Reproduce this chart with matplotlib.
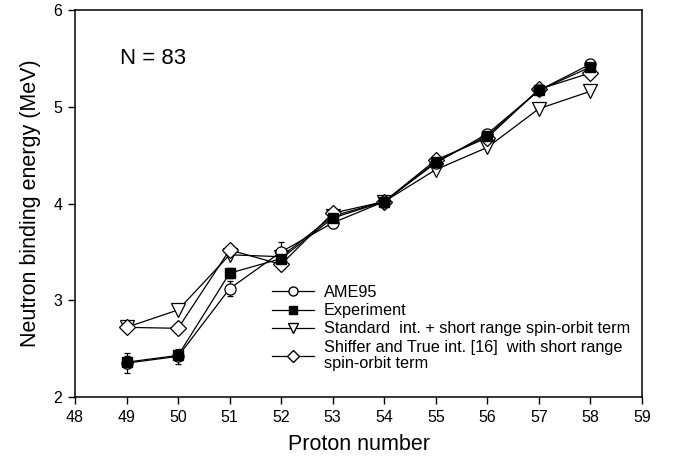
import matplotlib
matplotlib.use("Agg")
import matplotlib.pyplot as plt
from matplotlib.lines import Line2D

plt.rcParams['font.family'] = ['Liberation Sans', 'DejaVu Sans']

proton = [49, 50, 51, 52, 53, 54, 55, 56, 57, 58]
ame95 = [2.35, 2.42, 3.12, 3.50, 3.80, 4.02, 4.42, 4.72, 5.17, 5.44]
ame95_err = [0.10, 0.08, 0.08, 0.10, 0.05, 0.02, 0.03, 0.03, 0.02, 0.02]
experiment = [2.36, 2.43, 3.28, 3.43, 3.85, 4.02, 4.43, 4.70, 5.17, 5.41]
experiment_err = [0.06, 0.05, 0.05, 0.05, 0.04, 0.02, 0.03, 0.03, 0.02, 0.02]
standard = [2.72, 2.90, 3.47, 3.45, 3.87, 4.02, 4.35, 4.58, 4.98, 5.16]
shiffer = [2.72, 2.71, 3.52, 3.37, 3.90, 4.02, 4.45, 4.68, 5.18, 5.35]

labels = ["AME95", "Experiment", "Standard  int. + short range spin-orbit term",
          "Shiffer and True int. [16]  with short range\nspin-orbit term"]

fig = plt.figure(figsize=(6.78, 4.66), dpi=100)
ax = fig.add_axes([75/678, 1 - 397/466, (642-75)/678, (397-10)/466])

lw = 0.9
ax.errorbar(proton, ame95, yerr=ame95_err, color='black', lw=lw, marker='o', ms=8,
            mfc='white', mec='black', mew=0.9, capsize=2.5, elinewidth=0.9, zorder=3)
ax.errorbar(proton, experiment, yerr=experiment_err, color='black', lw=lw, marker='s', ms=7,
            mfc='black', mec='black', capsize=2.5, elinewidth=0.9, zorder=3)
ax.plot(proton, standard, color='black', lw=lw, marker='v', ms=10,
        mfc='white', mec='black', mew=0.9, zorder=2)
ax.plot(proton, shiffer, color='black', lw=lw, marker='D', ms=8,
        mfc='white', mec='black', mew=0.9, zorder=2)

handles = [
    Line2D([], [], color='black', lw=lw, marker='o', ms=6.5, mfc='white', mec='black'),
    Line2D([], [], color='black', lw=lw, marker='s', ms=5.5, mfc='black', mec='black'),
    Line2D([], [], color='black', lw=lw, marker='v', ms=7.5, mfc='white', mec='black'),
    Line2D([], [], color='black', lw=lw, marker='D', ms=6, mfc='white', mec='black'),
]

ax.set_xlim(48, 59)
ax.set_ylim(2, 6)
ax.set_xticks(range(48, 60))
ax.set_yticks([2, 3, 4, 5, 6])
ax.tick_params(direction='out', length=5, width=1, labelsize=11.5, pad=4)
for s in ax.spines.values():
    s.set_linewidth(1.1)

ax.set_xlabel("Proton number", fontsize=15.5, labelpad=7)
ax.set_ylabel("Neutron binding energy (MeV)", fontsize=15.5, labelpad=9)

ax.text(48.87, 5.5, "N = 83", fontsize=16, ha='left', va='center')

leg = ax.legend(handles, labels, loc='upper left',
                bbox_to_anchor=(272/678, 1 - 285/466), bbox_transform=fig.transFigure,
                frameon=False, fontsize=11.7, handlelength=2.6, handletextpad=0.6,
                labelspacing=0.2, borderaxespad=0, borderpad=0)
for t in leg.get_texts():
    t.set_linespacing(1.1)

fig.savefig("out.png", dpi=100)
